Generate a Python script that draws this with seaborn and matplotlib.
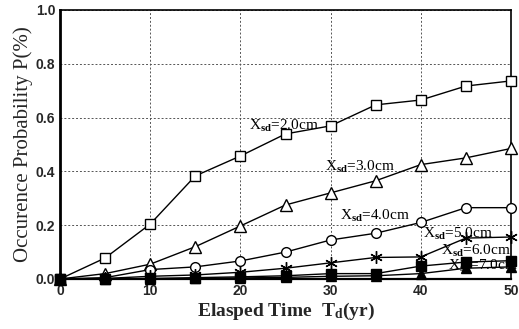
import matplotlib
matplotlib.use('Agg')
import matplotlib.pyplot as plt
import seaborn as sns
import pandas as pd

# elapsed time (yr)
years = [0, 5, 10, 15, 20, 25, 30, 35, 40, 45, 50]

# occurence probability for each crack depth X_sd
p_20 = [0.0, 0.078, 0.204, 0.383, 0.457, 0.539, 0.569, 0.647, 0.665, 0.717, 0.736]
p_30 = [0.0, 0.02, 0.055, 0.12, 0.197, 0.275, 0.32, 0.365, 0.425, 0.45, 0.485]
p_40 = [0.0, 0.005, 0.035, 0.045, 0.067, 0.10, 0.145, 0.17, 0.21, 0.265, 0.265]
p_50 = [0.0, 0.002, 0.01, 0.015, 0.025, 0.04, 0.06, 0.08, 0.082, 0.152, 0.156]
p_60 = [0.0, 0.0, 0.002, 0.005, 0.008, 0.012, 0.02, 0.02, 0.048, 0.063, 0.068]
p_70 = [0.0, 0.0, 0.0, 0.002, 0.004, 0.006, 0.01, 0.012, 0.02, 0.04, 0.045]

labels = ["2.0", "3.0", "4.0", "5.0", "6.0", "7.0"]
# where each curve label sits (x, y)
label_x = [21.0, 29.4, 31.0, 40.2, 42.2, 43.0]
label_y = [0.555, 0.40, 0.22, 0.152, 0.088, 0.032]

series = [p_20, p_30, p_40, p_50, p_60, p_70]
markers = ['s', '^', 'o', (6, 2, 0), 's', '^']
filled = [False, False, False, False, True, True]
msizes = [7, 8, 7, 9, 7, 7]

sns.set_style("white")
plt.rcParams['mathtext.fontset'] = 'custom'
plt.rcParams['mathtext.rm'] = 'Liberation Serif'
plt.rcParams['mathtext.it'] = 'Liberation Serif:italic'
plt.rcParams['mathtext.bf'] = 'Liberation Serif:bold'

fig = plt.figure(figsize=(5.19, 3.29), dpi=100)
ax = fig.add_axes([0.1156, 0.152, 0.869, 0.818])

for vals, m, f, ms in zip(series, markers, filled, msizes):
    df = pd.DataFrame({"t": years, "p": vals})
    sns.lineplot(data=df, x="t", y="p", ax=ax, color="black", lw=1.0,
                 marker=m, markersize=ms, markeredgecolor="black",
                 markerfacecolor="black" if f else "white",
                 markeredgewidth=1.0, zorder=3, clip_on=False)

for lab, lx, ly in zip(labels, label_x, label_y):
    ax.text(lx, ly, r"X$_{\mathbf{sd}}$=" + lab + "cm", fontsize=11,
            family="Liberation Serif", color="black", zorder=4)

ax.set_xlim(0, 50)
ax.set_ylim(0, 1.0)
ax.set_xticks([0, 10, 20, 30, 40, 50])
ax.set_yticks([0.0, 0.2, 0.4, 0.6, 0.8, 1.0])
ax.set_yticklabels(["0.0", "0.2", "0.4", "0.6", "0.8", "1.0"])
ax.set_yticks([0.1, 0.3, 0.5, 0.7, 0.9], minor=True)
ax.set_xticks([5, 15, 25, 35, 45], minor=True)
ax.tick_params(axis='both', which='major', direction='in', length=4,
               labelsize=10, width=1)
ax.tick_params(axis='both', which='minor', direction='in', length=2)
for t in ax.get_xticklabels() + ax.get_yticklabels():
    t.set_family("Liberation Sans")
    t.set_fontweight("bold")

ax.grid(True, which='major', linestyle=(0, (2, 2)), color="#555555", lw=0.7)
for s in ax.spines.values():
    s.set_color("black")
    s.set_linewidth(1.2)
ax.spines['left'].set_linewidth(2.0)
ax.spines['bottom'].set_linewidth(1.6)

ax.set_xlabel(r"Elasped Time  T$_{\mathbf{d}}$(yr)", fontsize=14,
              family="Liberation Serif", fontweight="bold", labelpad=2)
ax.set_ylabel("Occurence Probability P(%)", fontsize=15, family="Liberation Serif",
              labelpad=2)

plt.savefig("out.png", dpi=100)
